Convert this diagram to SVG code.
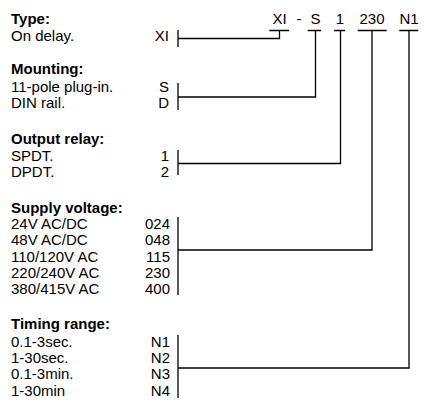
<svg xmlns="http://www.w3.org/2000/svg" width="430" height="412" viewBox="0 0 430 412">
<style>
text{font-family:"Liberation Sans",Arial,sans-serif;font-size:15px;fill:#000}
.h{font-weight:bold}
.c{text-anchor:end}
.m{text-anchor:middle}
.ln{stroke:#000;stroke-width:1.3;fill:none}
</style>
<rect width="430" height="412" fill="#fff"/>
<g id="code">
<text class="m" x="279.5" y="24">XI</text>
<text class="m" x="299" y="24">-</text>
<text class="m" x="315.5" y="24">S</text>
<text class="m" x="340" y="24">1</text>
<text class="m" x="372" y="24">230</text>
<text class="m" x="409" y="24">N1</text>
</g>
<g id="type">
<text class="h" x="11" y="24">Type:</text>
<text x="11" y="41">On delay.</text>
<text class="c" x="169" y="41">XI</text>
</g>
<g id="mounting">
<text class="h" x="11" y="74">Mounting:</text>
<text x="11" y="91.5">11-pole plug-in.</text>
<text class="c" x="169" y="91.5">S</text>
<text x="11" y="108">DIN rail.</text>
<text class="c" x="169" y="108">D</text>
</g>
<g id="output">
<text class="h" x="11" y="143.5">Output relay:</text>
<text x="11" y="160.5">SPDT.</text>
<text class="c" x="169" y="160.5">1</text>
<text x="11" y="176.7">DPDT.</text>
<text class="c" x="169" y="176.7">2</text>
</g>
<g id="supply">
<text class="h" x="11" y="212.7">Supply voltage:</text>
<text x="11" y="229.3">24V AC/DC</text>
<text class="c" x="170" y="229.3">024</text>
<text x="11" y="245.4">48V AC/DC</text>
<text class="c" x="170" y="245.4">048</text>
<text x="11" y="261.5">110/120V AC</text>
<text class="c" x="170" y="261.5">115</text>
<text x="11" y="277.7">220/240V AC</text>
<text class="c" x="170" y="277.7">230</text>
<text x="11" y="293.9">380/415V AC</text>
<text class="c" x="170" y="293.9">400</text>
</g>
<g id="timing">
<text class="h" x="11" y="329">Timing range:</text>
<text x="11" y="346.5">0.1-3sec.</text>
<text class="c" x="170" y="346.5">N1</text>
<text x="11" y="362.8">1-30sec.</text>
<text class="c" x="170" y="362.8">N2</text>
<text x="11" y="379.2">0.1-3min.</text>
<text class="c" x="170" y="379.2">N3</text>
<text x="11" y="395.6">1-30min</text>
<text class="c" x="170" y="395.6">N4</text>
</g>
<g id="connectors" class="ln">
<path d="M269.3 30.5H289M307.7 30.5H321M334 30.5H345M357.7 30.5H386.7M399.3 30.5H418.3"/>
<path d="M178 30V47M178 38.5H279.5V30.5"/>
<path d="M178 83V110M178 97H315.5V30.5"/>
<path d="M178 150V175M178 163.5H340.5V30.5"/>
<path d="M178 217V295M178 250H372V30.5"/>
<path d="M178 335V398M178 368H409V30.5"/>
</g>
</svg>
